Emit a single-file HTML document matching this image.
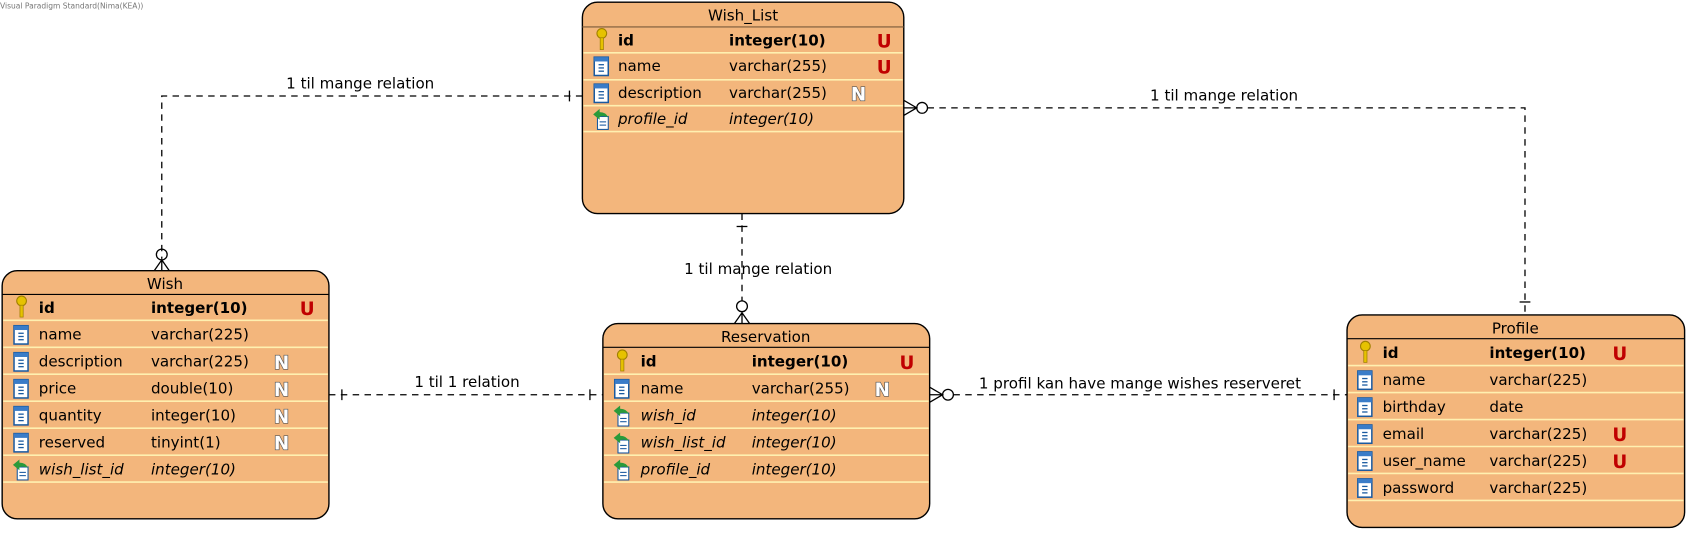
<!DOCTYPE html>
<html><head><meta charset="utf-8"><style>
html,body{margin:0;padding:0;background:#fff;width:1690px;height:533px;overflow:hidden}
svg{display:block}
svg text{font-family:"DejaVu Sans","Liberation Sans",sans-serif;font-size:14px;fill:#000}
.b{font-weight:bold}.i{font-style:italic}
.U{font-weight:bold;fill:#c00000;font-size:17px}
.N{font-weight:bold;fill:#fff;stroke:#555;stroke-width:1.2px;font-size:17px;paint-order:stroke}
.sep{stroke:#fff0b0;stroke-width:1.5}
.c{stroke:#000;stroke-width:1.2;fill:none;stroke-dasharray:6,5}
.s{stroke:#000;stroke-width:1.2;fill:none}
</style></head><body>
<svg width="1690" height="533" viewBox="0 0 1567 494.2" preserveAspectRatio="none" xmlns="http://www.w3.org/2000/svg">
<defs>
<g id="key"><circle cx="6" cy="-6" r="4.5" fill="#e6c200" stroke="#a08000"/><rect x="4.5" y="-2" width="3" height="11" fill="#e6c200" stroke="#a08000" stroke-width="0.7"/></g>
<g id="col"><rect x="0" y="-8" width="13" height="17" fill="#fff" stroke="#1a5aa0" stroke-width="1.4"/><rect x="0" y="-8" width="13" height="4" fill="#3a7cc8"/><line x1="4" y1="-1" x2="9" y2="-1" stroke="#1a5aa0" stroke-width="1.2"/><line x1="4" y1="2" x2="9" y2="2" stroke="#1a5aa0" stroke-width="1.2"/><line x1="4" y1="5" x2="9" y2="5" stroke="#1a5aa0" stroke-width="1.2"/></g>
<g id="fk"><rect x="4" y="-2" width="10" height="12" fill="#fff" stroke="#1a5aa0"/><line x1="6" y1="3" x2="12" y2="3" stroke="#1a5aa0"/><line x1="6" y1="6" x2="12" y2="6" stroke="#1a5aa0"/><path d="M0,-4 L6,-9 L6,-6 Q12,-6 14,-1 Q11,-3 6,-2 L6,1 Z" fill="#2a9a3a"/></g>
</defs>
<text x="0" y="8" style="font-size:7px;fill:#777">Visual Paradigm Standard(Nima(KEA))</text>

<path class="c" d="M540,89 H150 V240"/>
<line class="s" x1="528" y1="84" x2="528" y2="94"/>
<circle class="s" cx="150" cy="236" r="5" fill="#fff"/>
<path class="s" d="M143,251 L150,241 L157,251 M150,241 V251"/>
<text x="334" y="82" text-anchor="middle">1 til mange relation</text>

<path class="c" d="M860,100 H1414 V292"/>
<path class="s" d="M838,100 H850 M838,93 L850,100 L838,107"/>
<circle class="s" cx="855" cy="100" r="5" fill="#fff"/>
<line class="s" x1="1409" y1="280" x2="1419" y2="280"/>
<text x="1135" y="93" text-anchor="middle">1 til mange relation</text>

<path class="c" d="M688,198 V279"/>
<line class="s" x1="683" y1="210" x2="693" y2="210"/>
<circle class="s" cx="688" cy="284" r="5" fill="#fff"/>
<path class="s" d="M681,300 L688,290 L695,300 M688,290 V300"/>
<text x="703" y="254" text-anchor="middle">1 til mange relation</text>

<path class="c" d="M305,366 H559"/>
<line class="s" x1="317" y1="361" x2="317" y2="371"/>
<line class="s" x1="547" y1="361" x2="547" y2="371"/>
<text x="433" y="359" text-anchor="middle">1 til 1 relation</text>

<path class="c" d="M884,366 H1249"/>
<path class="s" d="M862,366 H874 M862,359 L874,366 L862,373"/>
<circle class="s" cx="879" cy="366" r="5" fill="#fff"/>
<line class="s" x1="1237" y1="361" x2="1237" y2="371"/>
<text x="1057" y="360" text-anchor="middle">1 profil kan have mange wishes reserveret</text>

<rect x="540" y="2" width="298" height="196" rx="14" fill="#f3b67c" stroke="#000" stroke-width="1.3"/>
<line x1="540" y1="25" x2="838" y2="25" stroke="#7a5a3a"/>
<text x="689" y="19" text-anchor="middle">Wish_List</text>
<line class="sep" x1="541" y1="49" x2="837" y2="49"/><line class="sep" x1="541" y1="74" x2="837" y2="74"/><line class="sep" x1="541" y1="98" x2="837" y2="98"/><line class="sep" x1="541" y1="122" x2="837" y2="122"/>
<use href="#key" x="552" y="37"/><text x="573" y="42" class="b">id</text><text x="676" y="42" class="b">integer(10)</text><text x="813" y="44" class="U">U</text>
<use href="#col" x="551" y="61"/><text x="573" y="66">name</text><text x="676" y="66">varchar(255)</text><text x="813" y="68" class="U">U</text>
<use href="#col" x="551" y="86"/><text x="573" y="91">description</text><text x="676" y="91">varchar(255)</text><text x="789" y="93" class="N">N</text>
<use href="#fk" x="550" y="110"/><text x="573" y="115" class="i">profile_id</text><text x="676" y="115" class="i">integer(10)</text>

<rect x="2" y="251" width="303" height="230" rx="14" fill="#f3b67c" stroke="#000" stroke-width="1.3"/>
<line x1="2" y1="273" x2="305" y2="273" stroke="#000"/>
<text x="153" y="268" text-anchor="middle">Wish</text>
<line class="sep" x1="3" y1="297" x2="304" y2="297"/><line class="sep" x1="3" y1="322" x2="304" y2="322"/><line class="sep" x1="3" y1="347" x2="304" y2="347"/><line class="sep" x1="3" y1="372" x2="304" y2="372"/><line class="sep" x1="3" y1="397" x2="304" y2="397"/><line class="sep" x1="3" y1="422" x2="304" y2="422"/><line class="sep" x1="3" y1="447" x2="304" y2="447"/>
<use href="#key" x="14" y="285"/><text x="36" y="290" class="b">id</text><text x="140" y="290" class="b">integer(10)</text><text x="278" y="292" class="U">U</text>
<use href="#col" x="13" y="310"/><text x="36" y="315">name</text><text x="140" y="315">varchar(225)</text>
<use href="#col" x="13" y="335"/><text x="36" y="340">description</text><text x="140" y="340">varchar(225)</text><text x="254" y="342" class="N">N</text>
<use href="#col" x="13" y="360"/><text x="36" y="365">price</text><text x="140" y="365">double(10)</text><text x="254" y="367" class="N">N</text>
<use href="#col" x="13" y="385"/><text x="36" y="390">quantity</text><text x="140" y="390">integer(10)</text><text x="254" y="392" class="N">N</text>
<use href="#col" x="13" y="410"/><text x="36" y="415">reserved</text><text x="140" y="415">tinyint(1)</text><text x="254" y="417" class="N">N</text>
<use href="#fk" x="12" y="435"/><text x="36" y="440" class="i">wish_list_id</text><text x="140" y="440" class="i">integer(10)</text>

<rect x="559" y="300" width="303" height="181" rx="14" fill="#f3b67c" stroke="#000" stroke-width="1.3"/>
<line x1="559" y1="322" x2="862" y2="322" stroke="#000"/>
<text x="710" y="317" text-anchor="middle">Reservation</text>
<line class="sep" x1="560" y1="347" x2="861" y2="347"/><line class="sep" x1="560" y1="372" x2="861" y2="372"/><line class="sep" x1="560" y1="397" x2="861" y2="397"/><line class="sep" x1="560" y1="422" x2="861" y2="422"/><line class="sep" x1="560" y1="447" x2="861" y2="447"/>
<use href="#key" x="571" y="335"/><text x="594" y="340" class="b">id</text><text x="697" y="340" class="b">integer(10)</text><text x="834" y="342" class="U">U</text>
<use href="#col" x="570" y="360"/><text x="594" y="365">name</text><text x="697" y="365">varchar(255)</text><text x="811" y="367" class="N">N</text>
<use href="#fk" x="569" y="385"/><text x="594" y="390" class="i">wish_id</text><text x="697" y="390" class="i">integer(10)</text>
<use href="#fk" x="569" y="410"/><text x="594" y="415" class="i">wish_list_id</text><text x="697" y="415" class="i">integer(10)</text>
<use href="#fk" x="569" y="435"/><text x="594" y="440" class="i">profile_id</text><text x="697" y="440" class="i">integer(10)</text>

<rect x="1249" y="292" width="313" height="197" rx="14" fill="#f3b67c" stroke="#000" stroke-width="1.3"/>
<line x1="1249" y1="314" x2="1562" y2="314" stroke="#000"/>
<text x="1405" y="309" text-anchor="middle">Profile</text>
<line class="sep" x1="1250" y1="339" x2="1561" y2="339"/><line class="sep" x1="1250" y1="364" x2="1561" y2="364"/><line class="sep" x1="1250" y1="389" x2="1561" y2="389"/><line class="sep" x1="1250" y1="414" x2="1561" y2="414"/><line class="sep" x1="1250" y1="439" x2="1561" y2="439"/><line class="sep" x1="1250" y1="464" x2="1561" y2="464"/>
<use href="#key" x="1260" y="327"/><text x="1282" y="332" class="b">id</text><text x="1381" y="332" class="b">integer(10)</text><text x="1495" y="334" class="U">U</text>
<use href="#col" x="1259" y="352"/><text x="1282" y="357">name</text><text x="1381" y="357">varchar(225)</text>
<use href="#col" x="1259" y="377"/><text x="1282" y="382">birthday</text><text x="1381" y="382">date</text>
<use href="#col" x="1259" y="402"/><text x="1282" y="407">email</text><text x="1381" y="407">varchar(225)</text><text x="1495" y="409" class="U">U</text>
<use href="#col" x="1259" y="427"/><text x="1282" y="432">user_name</text><text x="1381" y="432">varchar(225)</text><text x="1495" y="434" class="U">U</text>
<use href="#col" x="1259" y="452"/><text x="1282" y="457">password</text><text x="1381" y="457">varchar(225)</text>
</svg>
</body></html>
